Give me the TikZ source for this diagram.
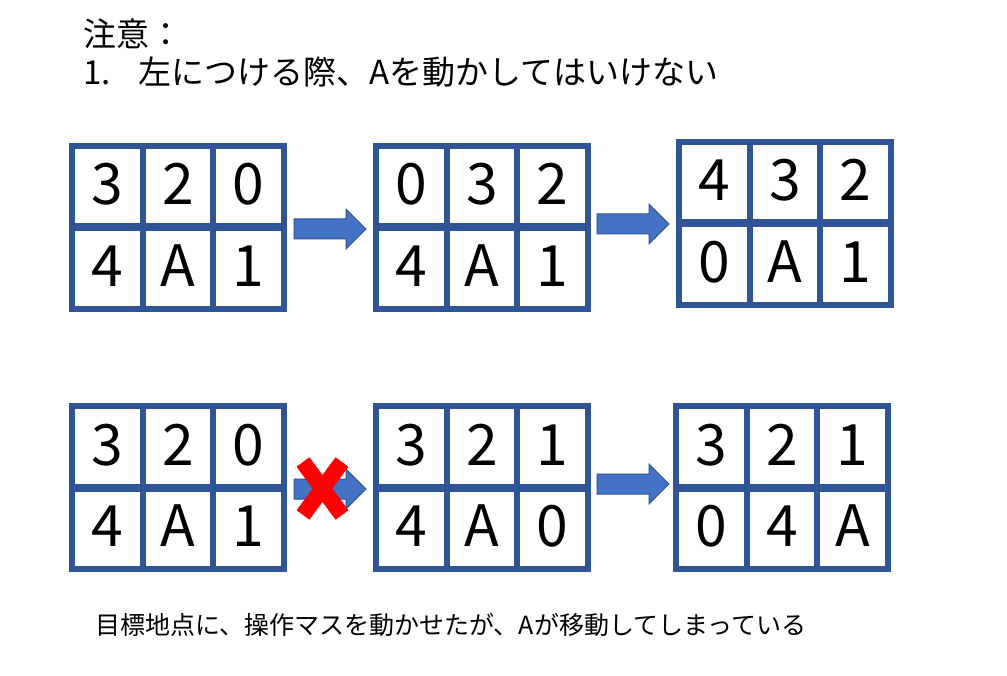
\documentclass[tikz,border=0pt]{standalone}
\usepackage{fontspec}
\setmainfont{Noto Sans CJK JP}
\definecolor{frameblue}{RGB}{47,85,151}
\definecolor{arrowfill}{RGB}{68,114,196}
\definecolor{arrowline}{RGB}{47,82,143}
\begin{document}
\begin{tikzpicture}[x=1pt,y=-1pt]
      \tikzstyle{frame} = [draw=frameblue,line width=5.7pt];
      \tikzstyle{digit} = [anchor=base,inner sep=0pt,font=\fontsize{57}{57}\selectfont];
      \tikzstyle{note} = [anchor=base west,inner sep=0pt];
      \tikzstyle{blockarrow} = [fill=arrowfill,draw=arrowline,line width=1pt];
      \tikzstyle{cross} = [draw=red,line width=16pt];
      \useasboundingbox (0,0) rectangle (1007,676);
      \node[note,font=\fontsize{33}{33}\selectfont] (title) at (83,46.5) {注意：};
      \node[note,font=\fontsize{33}{33}\selectfont] (rule) at (83,85) {1.\hspace{28pt}左につける際、Aを動かしてはいけない};
      \node[note,font=\fontsize{25}{25}\selectfont] (remark) at (95,634) {目標地点に、操作マスを動かせたが、Aが移動してしまっている};
      \foreach \gx/\gy/\a/\b/\c/\d/\e/\f [count=\i] in {72/146/3/2/0/4/A/1, 376/146/0/3/2/4/A/1, 679/142/4/3/2/0/A/1, 72/406/3/2/0/4/A/1, 376/406/3/2/1/4/A/0, 676/406/3/2/1/0/4/A} {
        \draw[frame] (\gx,\gy) rectangle ++(212,163);
        \draw[frame] (\gx+70.7,\gy) -- ++(0,163);
        \draw[frame] (\gx+141.3,\gy) -- ++(0,163);
        \draw[frame,line width=8pt] (\gx,\gy+81.5) -- ++(212,0);
        \node[digit] (g\i-a) at (\gx+35.3,\gy+59) {\a};
        \node[digit] (g\i-b) at (\gx+106,\gy+59) {\b};
        \node[digit] (g\i-c) at (\gx+176.7,\gy+59) {\c};
        \node[digit] (g\i-d) at (\gx+35.3,\gy+140.5) {\d};
        \node[digit] (g\i-e) at (\gx+106,\gy+140.5) {\e};
        \node[digit] (g\i-f) at (\gx+176.7,\gy+140.5) {\f};
      }
      \foreach \ax/\ay in {294/229, 597/224, 294/489, 597/484}
        \filldraw[blockarrow] (\ax,\ay-10) -- ++(52,0) -- ++(0,-10) -- ++(20,20) -- ++(-20,20) -- ++(0,-10) -- ++(-52,0) -- cycle;
      \draw[cross] (303,462) -- (342,515);
      \draw[cross] (342,462) -- (303,515);
    \end{tikzpicture}
\end{document}
